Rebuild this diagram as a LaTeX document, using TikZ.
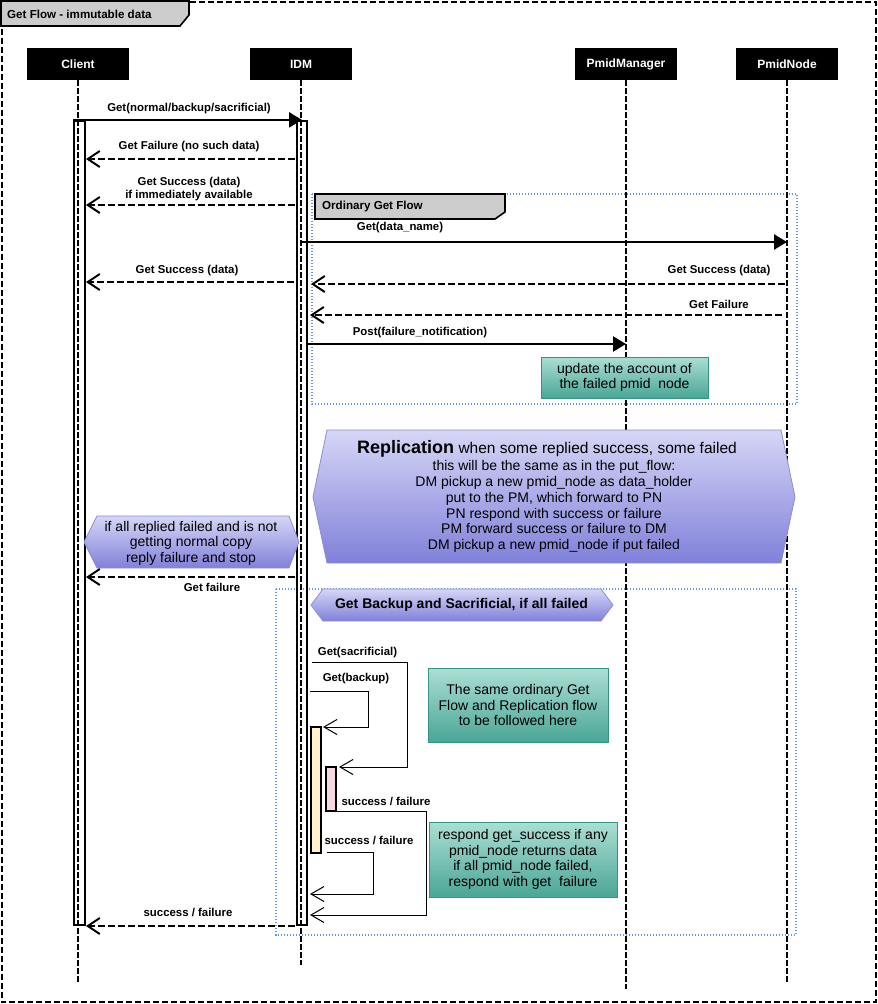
\documentclass[tikz,border=0pt]{standalone}
\usepackage{fontspec}
\setmainfont{Liberation Sans}
\usetikzlibrary{arrows.meta}
\definecolor{tealtop}{RGB}{172,222,212}
\definecolor{tealbot}{RGB}{74,166,150}
\definecolor{notedge}{RGB}{50,150,130}
\definecolor{purtop}{RGB}{214,214,246}
\definecolor{purbot}{RGB}{128,128,218}
\definecolor{hexedge}{RGB}{140,140,215}
\definecolor{tabgray}{RGB}{204,204,204}
\definecolor{dotblue}{RGB}{100,150,230}
\definecolor{yfill}{RGB}{255,242,204}
\definecolor{pfill}{RGB}{248,215,228}
\begin{document}
\begin{tikzpicture}[x=1pt,y=-1pt,
  frame/.style={line width=2pt, dash pattern=on 6pt off 3pt},
  life/.style={line width=2pt, dash pattern=on 5.5pt off 2.5pt},
  head/.style={fill=black, text=white, font=\bfseries\fontsize{12}{14}\selectfont, minimum width=102pt, minimum height=32pt, inner sep=0pt},
  act/.style={draw, line width=2.2pt, inner sep=0pt},
  call/.style={line width=2.3pt, -{Triangle[length=13pt,width=15pt]}},
  reply/.style={line width=2pt, dash pattern=on 7pt off 3pt, -{Straight Barb[length=12pt,width=16pt]}},
  selfc/.style={line width=1pt, -{Straight Barb[length=13pt,width=15pt]}},
  lbl/.style={font=\bfseries\fontsize{11.4}{13}\selectfont, inner sep=0pt, align=center},
  tab/.style={fill=tabgray, draw=black, line width=1.6pt},
  tabtext/.style={font=\bfseries\fontsize{11.6}{13}\selectfont, inner sep=0pt, anchor=west},
  group/.style={draw=dotblue, line width=1.5pt, dash pattern=on 1.4pt off 1.6pt},
  note/.style={draw=notedge, line width=0.8pt, top color=tealtop, bottom color=tealbot, font=\fontsize{14}{15.7}\selectfont, align=center, inner sep=0pt},
  hexa/.style={draw=hexedge, line width=0.8pt, top color=purtop, bottom color=purbot},
  hextext/.style={font=\fontsize{14}{15.8}\selectfont, align=center, inner sep=0pt}
]
\useasboundingbox (0,0) rectangle (878,1004);

% groups (background)
\draw[group] (312,194) rectangle (797,404);
\draw[group] (276,589) rectangle (796,935);

% frame and title tab
\draw[frame] (1.5,1.5) rectangle (875.5,1002);
\path[tab] (1,1) -- (189,1) -- (189,15) -- (180,26) -- (1,26) -- cycle;
\node[tabtext] (title) at (7,14) {Get Flow - immutable data};

% heads
\node[head] (client) at (78,64) {Client};
\node[head] (idm) at (301,64) {IDM};
\node[head] (pm) at (626,64) {PmidManager};
\node[head] (pn) at (787,64) {PmidNode};

% lifelines
\coordinate (clientEnd) at (78,983);
\coordinate (idmEnd) at (301,965);
\coordinate (pmEnd) at (626,989);
\coordinate (pnEnd) at (787,982);
\draw[life] (client.south) -- (clientEnd);
\draw[life] (idm.south) -- (idmEnd);
\draw[life] (pm.south) -- (pmEnd);
\draw[life] (pn.south) -- (pnEnd);

% activations
\node[act, minimum width=11pt, minimum height=804pt] (cact) at (79.5,523) {};
\node[act, minimum width=10pt, minimum height=804pt] (iact) at (302,523) {};

% ordinary get flow tab
\path[tab] (315,194) -- (505,194) -- (505,212) -- (495,219) -- (315,219) -- cycle;
\node[tabtext] (ordtab) at (322,206.5) {Ordinary Get Flow};

% messages
\draw[call] (cact.north west) -- (iact.north);
\node[lbl] (l1) at (189,109) {Get(normal/backup/sacrificial)};

\coordinate (m2a) at (295,159); \coordinate (m2b) at (86,159);
\draw[reply] (m2a) -- (m2b);
\node[lbl] (l2) at (189,147) {Get Failure (no such data)};

\coordinate (m3a) at (295,205); \coordinate (m3b) at (86,205);
\draw[reply] (m3a) -- (m3b);
\node[lbl] (l3) at (189,189.5) {Get Success (data)\\if immediately available};

\coordinate (m4a) at (300,242); \coordinate (m4b) at (787,242);
\draw[call] (m4a) -- (m4b);
\node[lbl] (l4) at (400,228) {Get(data\_name)};

\coordinate (m5a) at (785,284); \coordinate (m5b) at (311,284);
\draw[reply] (m5a) -- (m5b);
\node[lbl] (l5) at (719,271) {Get Success (data)};

\coordinate (m6a) at (294,282); \coordinate (m6b) at (86,282);
\draw[reply] (m6a) -- (m6b);
\node[lbl] (l6) at (187,271) {Get Success (data)};

\coordinate (m7a) at (782,315); \coordinate (m7b) at (310,315);
\draw[reply] (m7a) -- (m7b);
\node[lbl] (l7) at (719,304) {Get Failure};

\coordinate (m8a) at (307,344); \coordinate (m8b) at (626,344);
\draw[call] (m8a) -- (m8b);
\node[lbl] (l8) at (420,333) {Post(failure\_notification)};

\node[note, minimum width=167pt, minimum height=41pt] (upd) at (624.5,377.5) {update the account of\\the failed pmid\ \ node};

% replication hexagon
\path[hexa] (313,497) -- (327,430) -- (781,430) -- (795,497) -- (781,563) -- (327,563) -- cycle;
\node[inner sep=0pt] (repl) at (547,449) {{\bfseries\fontsize{18}{20}\selectfont Replication}\fontsize{15.5}{17}\selectfont{} when some replied success, some failed};
\node[hextext] (repbody) at (554,506.5) {this will be the same as in the put\_flow:\\DM pickup a new pmid\_node as data\_holder\\put to the PM, which forward to PN\\PN respond with success or failure\\PM forward success or failure to DM\\DM pickup a new pmid\_node if put failed};

% left hexagon
\path[hexa] (84,542) -- (97,516) -- (289,516) -- (299,542) -- (289,568) -- (97,568) -- cycle;
\begin{scope}
\clip (84,542) -- (97,516) -- (289,516) -- (299,542) -- (289,566) -- (97,566) -- cycle;
\node[hextext, font=\fontsize{14}{15.5}\selectfont] (allfail) at (191,543) {if all replied failed and is not\\getting normal copy\\reply failure and stop};
\end{scope}

\coordinate (m9a) at (295,577); \coordinate (m9b) at (86,577);
\draw[reply] (m9a) -- (m9b);
\node[lbl] (l9) at (212,587) {Get failure};

% backup hexagon
\path[hexa] (311,605) -- (323,589) -- (601,589) -- (613,605) -- (601,621) -- (323,621) -- cycle;
\node[inner sep=0pt, font=\bfseries\fontsize{14}{16}\selectfont] (bk) at (461.5,604.5) {Get Backup and Sacrificial, if all failed};

% inner activations
\node[act, line width=1.8pt, fill=yfill, minimum width=10pt, minimum height=126pt] (yact) at (316,790) {};
\node[act, line width=1.8pt, fill=pfill, minimum width=10pt, minimum height=44pt] (pact) at (331,789) {};

% self calls
\coordinate (s1a) at (312,662); \coordinate (s1c) at (407,767); \coordinate (s1t) at (339,767);
\draw[selfc] (s1a) -| (s1c) -- (s1t);
\node[lbl] (ls1) at (357.5,653) {Get(sacrificial)};

\coordinate (s2a) at (310,691); \coordinate (s2c) at (368,727); \coordinate (s2t) at (323,727);
\draw[selfc] (s2a) -| (s2c) -- (s2t);
\node[lbl] (ls2) at (356,679) {Get(backup)};

\coordinate (s3a) at (336,811); \coordinate (s3c) at (426,915); \coordinate (s3t) at (310,915);
\draw[selfc] (s3a) -| (s3c) -- (s3t);
\node[lbl] (ls3) at (386,801) {success / failure};

\coordinate (s4a) at (327,852); \coordinate (s4c) at (373,894); \coordinate (s4t) at (310,894);
\draw[selfc] (s4a) -| (s4c) -- (s4t);
\node[lbl] (ls4) at (369,840) {success / failure};

\node[note, minimum width=180pt, minimum height=74pt] (same) at (518,705) {The same ordinary Get\\Flow and Replication flow\\to be followed here};
\node[note, minimum width=188pt, minimum height=75pt] (resp) at (523,859.5) {respond get\_success if any\\pmid\_node returns data\\if all pmid\_node failed,\\respond with get\ \ failure};

% final reply
\coordinate (m10a) at (295,926); \coordinate (m10b) at (86,926);
\draw[reply] (m10a) -- (m10b);
\node[lbl] (l10) at (188,912) {success / failure};
\end{tikzpicture}
\end{document}
